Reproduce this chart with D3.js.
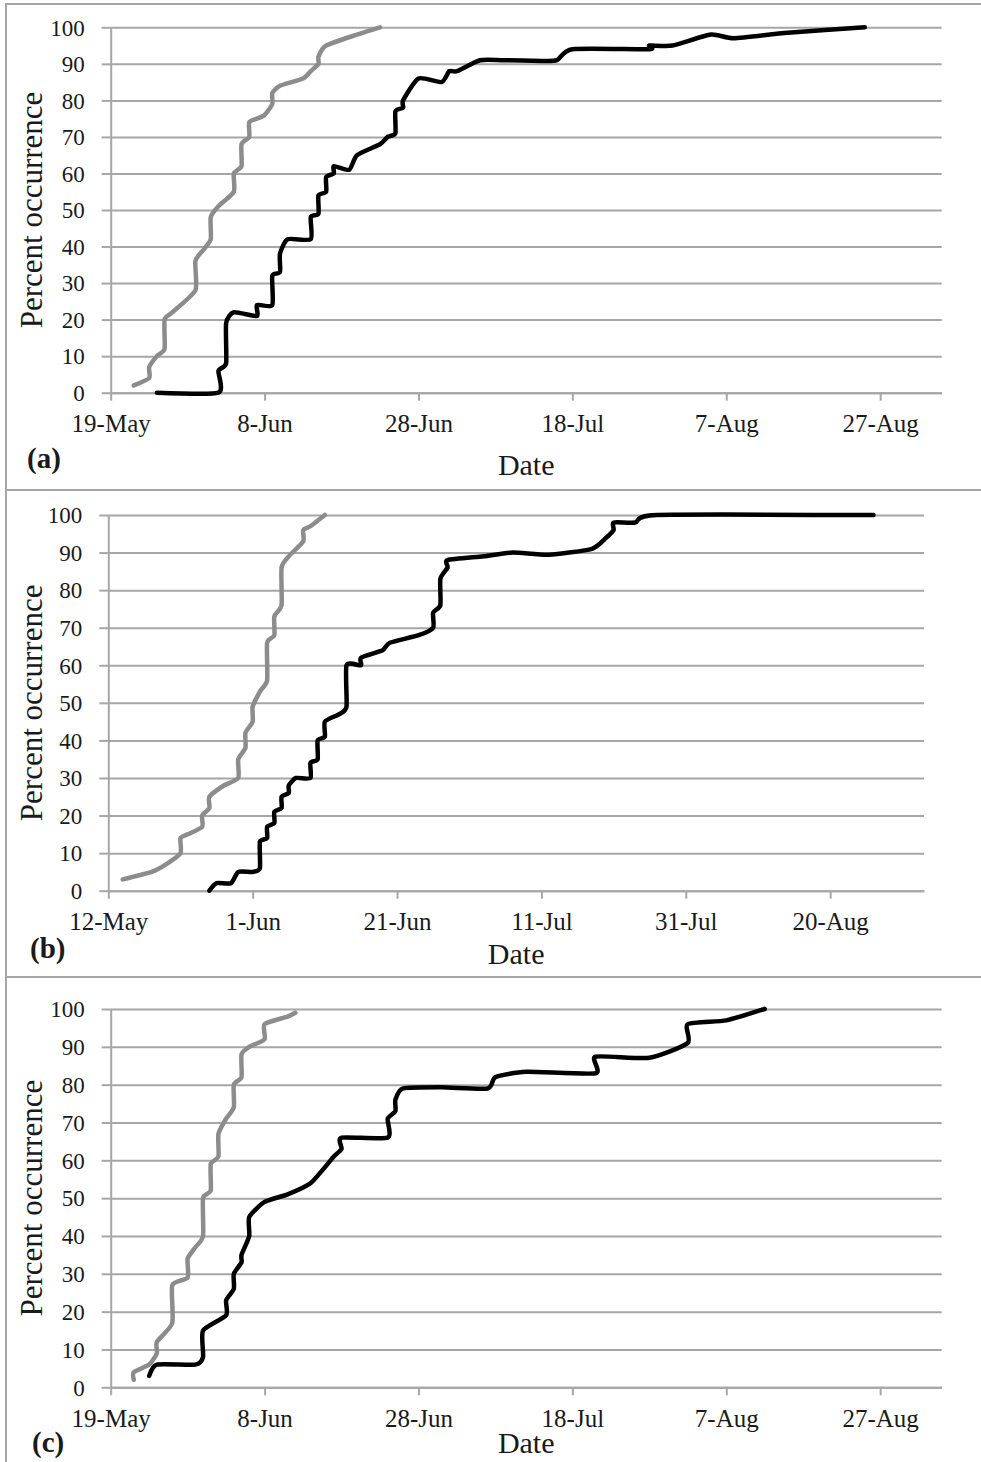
<!DOCTYPE html>
<html>
<head>
<meta charset="utf-8">
<script src="https://cdn.jsdelivr.net/npm/d3@7"></script>
<style>
body { margin: 0; background: #fff; }
text { font-family: "Liberation Serif", "Times New Roman", serif; fill: #1a1a1a; }
</style>
</head>
<body>
<svg id="chart" width="981" height="1462"></svg>
<script>
// percent ticks shared by all panels
var yTicks = [0, 10, 20, 30, 40, 50, 60, 70, 80, 90, 100];

// date tick labels for each panel
var aTicks = ["May 19", "Jun 8", "Jun 28", "Jul 18", "Aug 7", "Aug 27"];
var bTicks = ["May 12", "Jun 1", "Jun 21", "Jul 11", "Jul 31", "Aug 20"];
var cTicks = ["May 19", "Jun 8", "Jun 28", "Jul 18", "Aug 7", "Aug 27"];

// (a) grey series
var aGrayDate = ["May 22","May 24","May 24","May 25","May 26","May 26","May 27","May 30","May 30","May 31",
  "Jun 1","Jun 1","Jun 2","Jun 4","Jun 4","Jun 5","Jun 5","Jun 6","Jun 6","Jun 7","Jun 8","Jun 9","Jun 9",
  "Jun 10","Jun 13","Jun 14","Jun 15","Jun 15","Jun 16","Jun 20","Jun 23"];
var aGrayPct = [2,4,7,10,12,20,22,28,36,39,42,48,51,55,60,62,68,70,74,75,76,79,82,84,86,88,90,92,95,98,100];

// (a) black series
var aBlackDate = ["May 25","Jun 2","Jun 2","Jun 3","Jun 3","Jun 4","Jun 7","Jun 7","Jun 9","Jun 9","Jun 10",
  "Jun 10","Jun 11","Jun 14","Jun 14","Jun 15","Jun 15","Jun 16","Jun 16","Jun 17","Jun 17","Jun 19","Jun 20",
  "Jun 23","Jun 24","Jun 25","Jun 25","Jun 26","Jun 26","Jun 28","Jul 1","Jul 2","Jul 3","Jul 6","Jul 9",
  "Jul 14","Jul 16","Jul 18","Jul 28","Jul 28","Jul 31","Aug 5","Aug 8","Aug 15","Aug 25"];
var aBlackPct = [0,0,6,8,19,22,21,24,24,32,33,38,42,42,48,49,54,55,59,60,62,61,65,68,70,71,77,78,80,86,85,
  88,88,91,91,90.8,91,94,94,95,95,98,97,98.5,100];

// (b) grey series
var bGrayDate = ["May 14","May 18","May 20","May 22","May 22","May 23","May 25","May 25","May 26","May 26",
  "May 28","May 30","May 30","May 31","May 31","Jun 1","Jun 1","Jun 2","Jun 3","Jun 3","Jun 4","Jun 4",
  "Jun 5","Jun 5","Jun 6","Jun 8","Jun 8","Jun 9","Jun 11"];
var bGrayPct = [3,5,7,10,14,15,17,20,22,25,28,30,35,38,42,45,49,53,56,66,68,73,76,86,89,93,96,97,100];

// (b) black series
var bBlackDate = ["May 26","May 27","May 29","May 30","Jun 1","Jun 2","Jun 2","Jun 3","Jun 3","Jun 4","Jun 4",
  "Jun 5","Jun 5","Jun 6","Jun 6","Jun 7","Jun 9","Jun 9","Jun 10","Jun 10","Jun 11","Jun 11","Jun 13",
  "Jun 14","Jun 14","Jun 16","Jun 16","Jun 19","Jun 20","Jun 24","Jun 26","Jun 26","Jun 27","Jun 27",
  "Jun 28","Jun 28","Jul 3","Jul 7","Jul 12","Jul 18","Jul 20","Jul 21","Jul 21","Jul 24","Jul 27","Aug 26"];
var bBlackPct = [0,2,2,5,5,6,13,14,17,18,21,22,25,26,28,30,30,34,35,40,41,45,47,49,60,60,62,64,66,68,70,74,
  76,83,86,88,89,90,89.4,91,94,96,98,98,100,100];

// (c) grey series
var cGrayDate = ["May 22","May 22","May 24","May 25","May 25","May 27","May 27","May 29","May 29","May 30",
  "May 31","May 31","Jun 1","Jun 1","Jun 2","Jun 2","Jun 3","Jun 4","Jun 4","Jun 5","Jun 5","Jun 6","Jun 8",
  "Jun 8","Jun 11","Jun 12"];
var cGrayPct = [2,4,6,9,12,17,27,29,34,37,40,50,52,59,61,67,71,74,80,82,88,90,92,96,98,99];

// (c) black series
var cBlackDate = ["May 24","May 25","May 30","May 31","May 31","Jun 3","Jun 3","Jun 4","Jun 4","Jun 5","Jun 5",
  "Jun 6","Jun 6","Jun 8","Jun 11","Jun 14","Jun 17","Jun 18","Jun 18","Jun 24","Jun 24","Jun 25","Jun 25",
  "Jun 26","Jul 1","Jul 7","Jul 8","Jul 12","Jul 21","Jul 21","Jul 28","Aug 2","Aug 2","Aug 7","Aug 12"];
var cBlackPct = [3,6,6,8,15,19,23,26,30,33,35,40,45,49,51,54,61,63,66,66,71,73,76,79,79.3,79,82,83.4,83,87.4,
  87.1,91,96,97,100];

var parseDay = d3.timeParse("%b %d");
var fmtDay = d3.timeFormat("%-d-%b");

var gridCol = "#a6a6a6";
var greyCol = "#8c8c8c";

// layout of the three stacked panels
var panels = [
  { tag: "(a)", box: [6, 4, 486], left: 110.7, right: 941.7, top: 27.3, bottom: 392.7,
    dom: ["May 19", "Sep 4"], ticks: aTicks, dateY: 475, tagY: 468, tagX: 27,
    series: [[aGrayDate, aGrayPct, greyCol], [aBlackDate, aBlackPct, "#000"]] },
  { tag: "(b)", box: [6, 490, 487], left: 108.3, right: 924, top: 515, bottom: 890.7,
    dom: ["May 12", "Sep 2"], ticks: bTicks, dateY: 964, tagY: 958, tagX: 30,
    series: [[bGrayDate, bGrayPct, greyCol], [bBlackDate, bBlackPct, "#000"]] },
  { tag: "(c)", box: [6, 977, 500], left: 110.7, right: 941.7, top: 1009, bottom: 1387.3,
    dom: ["May 19", "Sep 4"], ticks: cTicks, dateY: 1453, tagY: 1452, tagX: 32,
    series: [[cGrayDate, cGrayPct, greyCol], [cBlackDate, cBlackPct, "#000"]] }
];

var svg = d3.select("#chart");

panels.forEach(function (p) {
  svg.append("rect")
    .attr("x", p.box[0]).attr("y", p.box[1])
    .attr("width", 1100).attr("height", p.box[2])
    .attr("fill", "none").attr("stroke", gridCol).attr("stroke-width", 2);

  var x = d3.scaleTime().domain(p.dom.map(parseDay)).range([p.left, p.right]);
  var y = d3.scaleLinear().domain([0, 100]).range([p.bottom, p.top]);

  // horizontal gridlines
  svg.append("g")
    .attr("transform", "translate(" + p.left + ",0)")
    .call(d3.axisLeft(y).tickValues(yTicks).tickSize(-(p.right - p.left)).tickFormat(""))
    .call(function (g) { g.select(".domain").remove(); })
    .selectAll("line").attr("stroke", gridCol).attr("stroke-width", 2);

  // y axis
  var ya = svg.append("g")
    .attr("transform", "translate(" + p.left + ",0)")
    .call(d3.axisLeft(y).tickValues(yTicks).tickSize(9).tickSizeOuter(0).tickPadding(17));
  ya.select(".domain").attr("stroke", gridCol).attr("stroke-width", 2);
  ya.selectAll("line").attr("stroke", gridCol).attr("stroke-width", 2);
  ya.selectAll("text").attr("font-size", 23).attr("font-family", null).attr("dy", "0.34em");

  // x axis
  var xa = svg.append("g")
    .attr("transform", "translate(0," + p.bottom + ")")
    .call(d3.axisBottom(x).tickValues(p.ticks.map(parseDay)).tickFormat(fmtDay)
      .tickSize(8).tickSizeOuter(0).tickPadding(14));
  xa.select(".domain").attr("stroke", gridCol).attr("stroke-width", 2);
  xa.selectAll("line").attr("stroke", gridCol).attr("stroke-width", 2);
  xa.selectAll("text").attr("font-size", 25).attr("font-family", null);

  // axis titles and panel tag
  svg.append("text")
    .attr("transform", "translate(42," + ((p.top + p.bottom) / 2) + ") rotate(-90)")
    .attr("text-anchor", "middle").attr("font-size", 31)
    .text("Percent occurrence");
  svg.append("text")
    .attr("x", (p.left + p.right) / 2).attr("y", p.dateY)
    .attr("text-anchor", "middle").attr("font-size", 30)
    .text("Date");
  svg.append("text")
    .attr("x", p.tagX).attr("y", p.tagY)
    .attr("font-size", 29).attr("font-weight", "bold")
    .text(p.tag);

  // smoothed line, kept fairly tight so the steps do not overshoot much
  var line = d3.line()
    .x(function (d) { return x(d[0]); })
    .y(function (d) { return y(d[1]); })
    .curve(d3.curveCardinal.tension(0.4));

  p.series.forEach(function (s) {
    var pts = s[0].map(function (dt, i) { return [parseDay(dt), s[1][i]]; });
    svg.append("path")
      .datum(pts)
      .attr("d", line)
      .attr("fill", "none")
      .attr("stroke", s[2])
      .attr("stroke-width", 4.5)
      .attr("stroke-linejoin", "round")
      .attr("stroke-linecap", "round");
  });
});
</script>
</body>
</html>
